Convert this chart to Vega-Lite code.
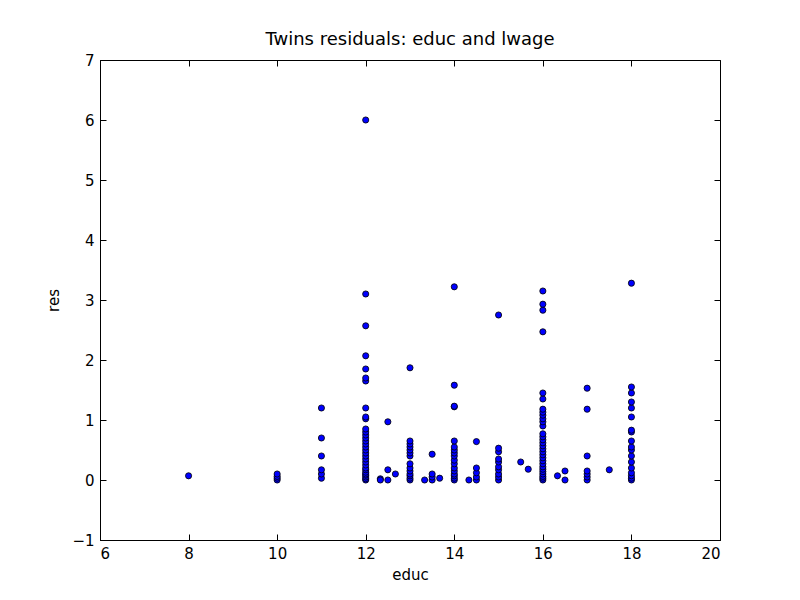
{
"$schema":"https://vega.github.io/schema/vega-lite/v6.json",
"width":620,"height":480,
"autosize":{"type":"none"},
"padding":{"left":100,"top":60,"right":80,"bottom":60},
"background":"white",
"title":{"text":"Twins residuals: educ and lwage","fontSize":18,"font":"DejaVu Sans","fontWeight":"normal","offset":4,"color":"black"},
"config":{"view":{"stroke":"black","strokeWidth":1},"font":"DejaVu Sans",
"axis":{"grid":false,"domainColor":"black","tickColor":"black","tickSize":-6,"labelFontSize":15,"labelColor":"black","titleFontSize":15,"titleFontWeight":"normal","titleColor":"black","labelPadding":12,"labelFont":"DejaVu Sans","titleFont":"DejaVu Sans"}},
"data":{"values":[
{"educ":8,"res":0.07},
{"educ":10,"res":0},{"educ":10,"res":0.03},{"educ":10,"res":0.06},{"educ":10,"res":0.1},
{"educ":11,"res":0.03},{"educ":11,"res":0.1},{"educ":11,"res":0.17},{"educ":11,"res":0.4},{"educ":11,"res":0.7},{"educ":11,"res":1.2},
{"educ":12,"res":0},{"educ":12,"res":0.02},{"educ":12,"res":0.05},{"educ":12,"res":0.08},{"educ":12,"res":0.1},{"educ":12,"res":0.13},{"educ":12,"res":0.17},{"educ":12,"res":0.2},{"educ":12,"res":0.25},{"educ":12,"res":0.3},{"educ":12,"res":0.35},{"educ":12,"res":0.4},{"educ":12,"res":0.45},{"educ":12,"res":0.5},{"educ":12,"res":0.55},{"educ":12,"res":0.6},{"educ":12,"res":0.65},{"educ":12,"res":0.7},{"educ":12,"res":0.75},{"educ":12,"res":0.8},{"educ":12,"res":0.85},{"educ":12,"res":1.02},{"educ":12,"res":1.05},{"educ":12,"res":1.2},{"educ":12,"res":1.65},{"educ":12,"res":1.7},{"educ":12,"res":1.85},{"educ":12,"res":2.07},{"educ":12,"res":2.57},{"educ":12,"res":3.1},{"educ":12,"res":6.0},
{"educ":12.33,"res":0.02},{"educ":12.33,"res":0},
{"educ":12.5,"res":0.97},{"educ":12.5,"res":0.17},{"educ":12.5,"res":0},
{"educ":12.67,"res":0.1},
{"educ":13,"res":0},{"educ":13,"res":0.03},{"educ":13,"res":0.07},{"educ":13,"res":0.1},{"educ":13,"res":0.15},{"educ":13,"res":0.2},{"educ":13,"res":0.27},{"educ":13,"res":0.4},{"educ":13,"res":0.45},{"educ":13,"res":0.5},{"educ":13,"res":0.55},{"educ":13,"res":0.6},{"educ":13,"res":0.65},{"educ":13,"res":1.87},
{"educ":13.33,"res":0},
{"educ":13.5,"res":0},{"educ":13.5,"res":0.05},{"educ":13.5,"res":0.1},{"educ":13.5,"res":0.43},
{"educ":13.67,"res":0.03},
{"educ":14,"res":0},{"educ":14,"res":0.03},{"educ":14,"res":0.07},{"educ":14,"res":0.1},{"educ":14,"res":0.15},{"educ":14,"res":0.2},{"educ":14,"res":0.27},{"educ":14,"res":0.33},{"educ":14,"res":0.4},{"educ":14,"res":0.45},{"educ":14,"res":0.5},{"educ":14,"res":0.55},{"educ":14,"res":0.65},{"educ":14,"res":1.22},{"educ":14,"res":1.23},{"educ":14,"res":1.58},{"educ":14,"res":3.22},
{"educ":14.33,"res":0},
{"educ":14.5,"res":0},{"educ":14.5,"res":0.05},{"educ":14.5,"res":0.12},{"educ":14.5,"res":0.2},{"educ":14.5,"res":0.64},
{"educ":15,"res":0},{"educ":15,"res":0.05},{"educ":15,"res":0.1},{"educ":15,"res":0.17},{"educ":15,"res":0.22},{"educ":15,"res":0.3},{"educ":15,"res":0.35},{"educ":15,"res":0.47},{"educ":15,"res":0.53},{"educ":15,"res":2.75},
{"educ":15.5,"res":0.3},
{"educ":15.67,"res":0.18},
{"educ":16,"res":0},{"educ":16,"res":0.03},{"educ":16,"res":0.06},{"educ":16,"res":0.1},{"educ":16,"res":0.14},{"educ":16,"res":0.18},{"educ":16,"res":0.22},{"educ":16,"res":0.27},{"educ":16,"res":0.32},{"educ":16,"res":0.37},{"educ":16,"res":0.42},{"educ":16,"res":0.47},{"educ":16,"res":0.52},{"educ":16,"res":0.57},{"educ":16,"res":0.62},{"educ":16,"res":0.67},{"educ":16,"res":0.72},{"educ":16,"res":0.77},{"educ":16,"res":0.9},{"educ":16,"res":0.97},{"educ":16,"res":1.02},{"educ":16,"res":1.08},{"educ":16,"res":1.13},{"educ":16,"res":1.18},{"educ":16,"res":1.35},{"educ":16,"res":1.45},{"educ":16,"res":2.47},{"educ":16,"res":2.83},{"educ":16,"res":2.93},{"educ":16,"res":3.15},
{"educ":16.33,"res":0.07},
{"educ":16.5,"res":0},{"educ":16.5,"res":0.15},
{"educ":17,"res":0},{"educ":17,"res":0.05},{"educ":17,"res":0.1},{"educ":17,"res":0.15},{"educ":17,"res":0.4},{"educ":17,"res":1.18},{"educ":17,"res":1.53},
{"educ":17.5,"res":0.17},
{"educ":18,"res":0},{"educ":18,"res":0.03},{"educ":18,"res":0.07},{"educ":18,"res":0.12},{"educ":18,"res":0.2},{"educ":18,"res":0.3},{"educ":18,"res":0.4},{"educ":18,"res":0.5},{"educ":18,"res":0.55},{"educ":18,"res":0.65},{"educ":18,"res":0.8},{"educ":18,"res":0.83},{"educ":18,"res":1.05},{"educ":18,"res":1.2},{"educ":18,"res":1.3},{"educ":18,"res":1.45},{"educ":18,"res":1.55},{"educ":18,"res":3.28}
]},
"layer":[
{"mark":{"type":"point","filled":true,"fill":"#0000ff","stroke":"black","strokeWidth":0.8,"size":38,"opacity":1},
"encoding":{
"x":{"field":"educ","type":"quantitative","scale":{"domain":[6,20],"nice":false,"zero":false},"axis":{"values":[6,8,10,12,14,16,18,20],"title":"educ","titlePadding":6}},
"y":{"field":"res","type":"quantitative","scale":{"domain":[-1,7],"nice":false,"zero":false},"axis":{"values":[-1,0,1,2,3,4,5,6,7],"title":"res","titlePadding":10}}}},
{"mark":{"type":"point","opacity":0},
"encoding":{
"x":{"field":"educ","type":"quantitative","scale":{"domain":[6,20],"nice":false,"zero":false},"axis":{"orient":"top","values":[6,8,10,12,14,16,18,20],"labels":false,"title":null,"domain":false}},
"y":{"field":"res","type":"quantitative","scale":{"domain":[-1,7],"nice":false,"zero":false},"axis":{"orient":"right","values":[-1,0,1,2,3,4,5,6,7],"labels":false,"title":null,"domain":false}}}}
],
"resolve":{"axis":{"x":"independent","y":"independent"}}
}
